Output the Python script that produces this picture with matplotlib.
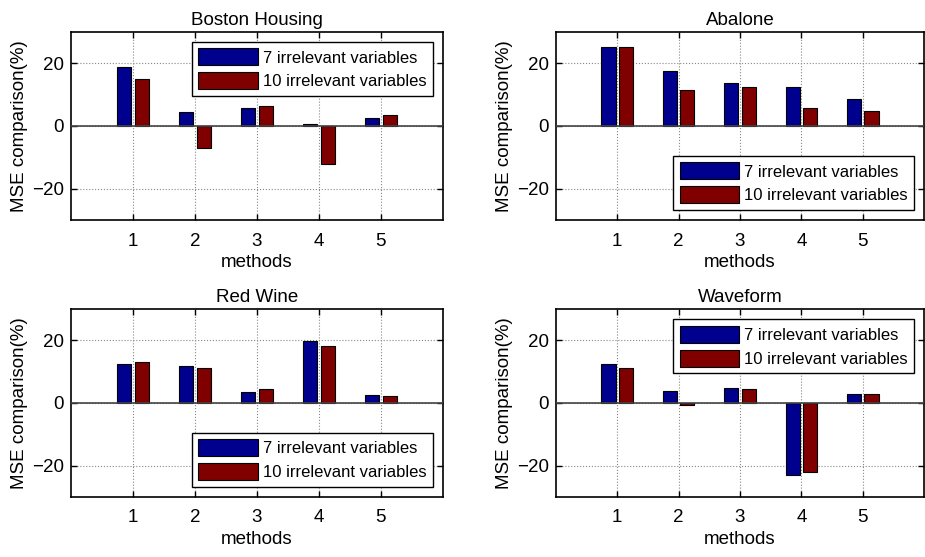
import matplotlib
matplotlib.use("Agg")
import matplotlib.pyplot as plt
import numpy as np

plt.rcParams['font.family'] = ['Liberation Sans', 'DejaVu Sans']

# datos
methods = [1, 2, 3, 4, 5]
titles = ['Boston Housing', 'Abalone', 'Red Wine', 'Waveform']
labels = ['7 irrelevant variables', '10 irrelevant variables']

boston_7 = [18.9, 4.4, 5.7, 0.6, 2.6]
boston_10 = [15.1, -7.1, 6.2, -12.1, 3.4]
abalone_7 = [25.0, 17.6, 13.7, 12.4, 8.6]
abalone_10 = [25.0, 11.5, 12.4, 5.7, 4.8]
wine_7 = [12.6, 11.7, 3.6, 19.9, 2.6]
wine_10 = [13.0, 11.1, 4.5, 18.3, 2.1]
wave_7 = [12.6, 3.9, 4.9, -22.9, 2.9]
wave_10 = [11.1, -0.5, 4.5, -21.9, 2.9]

series = [(boston_7, boston_10), (abalone_7, abalone_10),
          (wine_7, wine_10), (wave_7, wave_10)]
legend_loc = ['upper right', 'lower right', 'lower right', 'upper right']

colores = ['#00008F', '#800000']

fig = plt.figure(figsize=(9.25, 5.57), dpi=100)

# posiciones de los ejes (en fraccion de figura)
pos = [[0.0768, 0.605, 0.402, 0.338],
       [0.601, 0.605, 0.398, 0.338],
       [0.0768, 0.108, 0.402, 0.337],
       [0.601, 0.108, 0.398, 0.337]]

x = np.array(methods)
w = 0.2286
off = 0.143
fs = 13.5

for i in range(4):
    ax = fig.add_axes(pos[i])
    v7, v10 = series[i]
    ax.bar(x - off, v7, w, color=colores[0], edgecolor='black', linewidth=0.8,
           label=labels[0], zorder=3)
    ax.bar(x + off, v10, w, color=colores[1], edgecolor='black', linewidth=0.8,
           label=labels[1], zorder=3)
    ax.axhline(0, color='#444444', linewidth=1.2, zorder=4)

    ax.set_xlim(0, 6)
    ax.set_ylim(-30, 30)
    ax.set_xticks(methods)
    ax.set_yticks([-20, 0, 20])
    ax.grid(True, linestyle=':', color='#888888', linewidth=0.8, zorder=0)
    ax.tick_params(direction='in', top=True, right=True, length=4,
                   labelsize=fs, width=1)
    ax.tick_params(axis='x', pad=9)
    ax.tick_params(axis='y', pad=5)
    for s in ax.spines.values():
        s.set_linewidth(1.2)
        s.set_color('black')

    ax.set_title(titles[i], fontsize=fs, pad=5)
    ax.set_xlabel('methods', fontsize=fs, labelpad=3)
    ax.set_ylabel('MSE comparison(%)', fontsize=fs, labelpad=3)

    leg = ax.legend(loc=legend_loc[i], fontsize=12, fancybox=False,
                    framealpha=1, edgecolor='black', handlelength=3.55,
                    handleheight=1.2, handletextpad=0.3, labelspacing=0.4,
                    borderpad=0.4, borderaxespad=0.6)
    leg.get_frame().set_linewidth(1.0)
    leg.set_zorder(5)

fig.savefig('out.png', dpi=100)
